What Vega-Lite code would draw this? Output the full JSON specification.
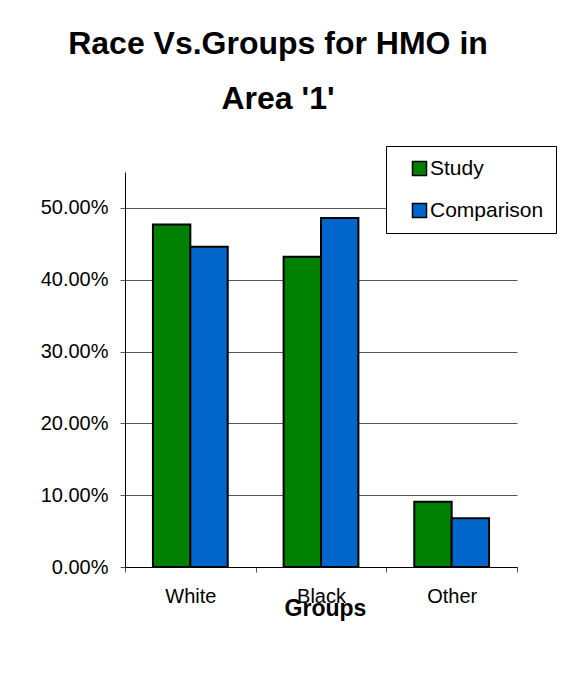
{
  "$schema": "https://vega.github.io/schema/vega-lite/v6.json",
  "autosize": {"type": "none"},
  "width": 392,
  "height": 395,
  "padding": {"left": 125, "top": 172, "right": 62, "bottom": 110},
  "background": "white",
  "title": {
    "text": ["Race Vs.Groups for HMO in", "Area '1'"],
    "font": "Liberation Sans",
    "fontSize": 32,
    "fontWeight": "bold",
    "color": "black",
    "anchor": "middle",
    "frame": "group",
    "dx": -43,
    "lineHeight": 55,
    "offset": 30
  },
  "data": {
    "values": [
      {"race": "White", "group": "Study", "share": 0.477},
      {"race": "White", "group": "Comparison", "share": 0.446},
      {"race": "Black", "group": "Study", "share": 0.432},
      {"race": "Black", "group": "Comparison", "share": 0.486},
      {"race": "Other", "group": "Study", "share": 0.091},
      {"race": "Other", "group": "Comparison", "share": 0.068}
    ]
  },
  "mark": {"type": "bar", "stroke": "black", "strokeWidth": 2},
  "encoding": {
    "x": {
      "field": "race",
      "type": "nominal",
      "sort": ["White", "Black", "Other"],
      "scale": {"paddingInner": 0, "paddingOuter": 0},
      "axis": {
        "title": "Groups",
        "labelAngle": 0,
        "labelFont": "Liberation Sans",
        "labelFontSize": 20,
        "labelColor": "black",
        "labelPadding": 14,
        "tickBand": "extent",
        "tickSize": 5,
        "tickColor": "#555",
        "domainColor": "black",
        "titleFont": "Liberation Sans",
        "titleFontSize": 23,
        "titleFontWeight": "bold",
        "titleColor": "black",
        "titleBaseline": "alphabetic",
        "titleAlign": "center",
        "titleAnchor": null,
        "titleX": 200,
        "titleY": 48
      }
    },
    "xOffset": {
      "field": "group",
      "sort": ["Study", "Comparison"],
      "scale": {"paddingInner": 0, "paddingOuter": 0.747}
    },
    "y": {
      "field": "share",
      "type": "quantitative",
      "scale": {"domain": [0, 0.55], "nice": false},
      "axis": {
        "title": null,
        "format": ".2%",
        "values": [0, 0.1, 0.2, 0.3, 0.4, 0.5],
        "labelFont": "Liberation Sans",
        "labelFontSize": 20,
        "labelColor": "black",
        "labelPadding": 12,
        "tickSize": 5,
        "tickColor": "#555",
        "domainColor": "black",
        "grid": true,
        "gridColor": "#555",
        "gridWidth": 1
      }
    },
    "color": {
      "field": "group",
      "type": "nominal",
      "sort": ["Study", "Comparison"],
      "scale": {"domain": ["Study", "Comparison"], "range": ["#008000", "#0066CC"]},
      "legend": {
        "title": null,
        "orient": "none",
        "legendX": 261,
        "legendY": -26,
        "padding": 12,
        "fillColor": "white",
        "strokeColor": "black",
        "symbolType": "square",
        "symbolSize": 196,
        "symbolStrokeColor": "black",
        "symbolStrokeWidth": 1.5,
        "symbolOffset": 11,
        "labelOffset": 0,
        "labelFont": "Liberation Sans",
        "labelFontSize": 21,
        "labelColor": "black",
        "rowPadding": 20
      }
    }
  },
  "config": {
    "view": {"stroke": null},
    "axis": {"domainWidth": 1, "tickWidth": 1}
  }
}
